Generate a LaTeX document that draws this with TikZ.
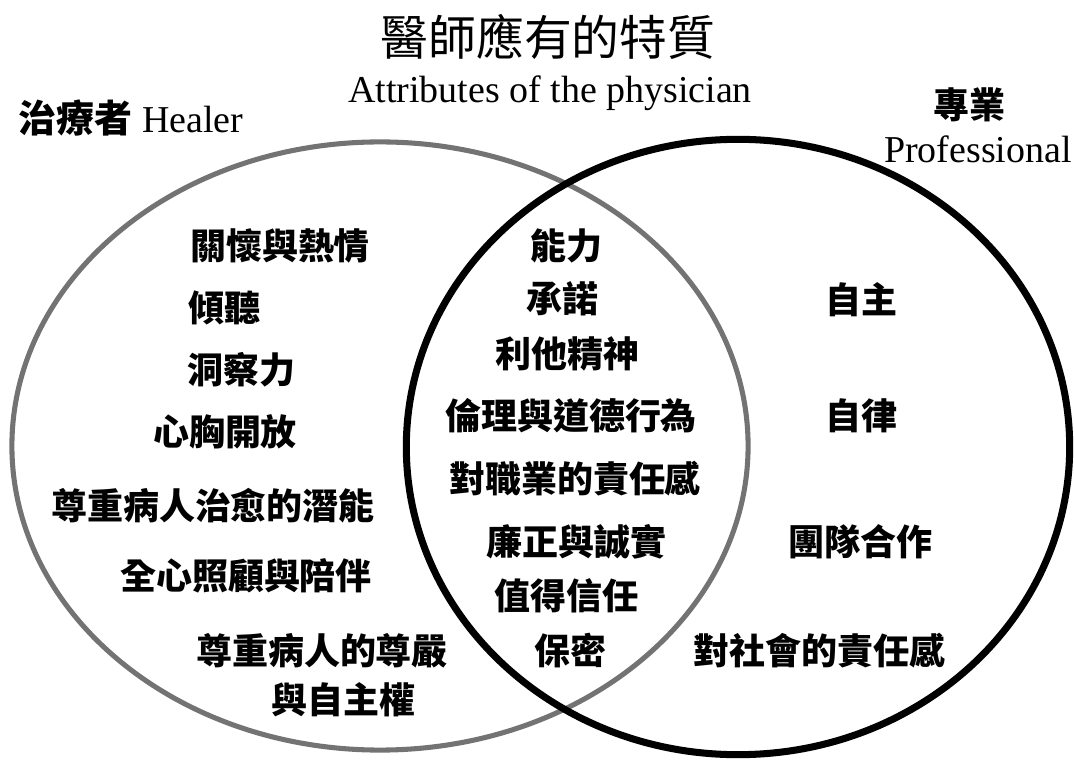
\documentclass[tikz,border=0pt]{standalone}
\usepackage{fontspec}
\setmainfont{Liberation Serif}
\newfontfamily\cjk{Noto Sans CJK TC}

\begin{document}
\begin{tikzpicture}[
        x=0.025cm, y=-0.025cm, % one unit = one pixel of the layout
        item/.style={font=\cjk\bfseries\fontsize{25.6}{30}\selectfont, inner sep=0pt}, % Chinese items
        latin/.style={font=\fontsize{27}{32}\selectfont, inner sep=0pt, anchor=base}, % English labels
        healerring/.style={draw=black!55, line width=3.6pt},
        proring/.style={draw=black, line width=5pt}
        ]

        \useasboundingbox (0,0) rectangle (1074,760);

        % Draw the two circles
        \draw[healerring] (380,446) ellipse [x radius=9.2cm, y radius=7.6cm];
        \draw[proring] (738,447) ellipse [x radius=8.29cm, y radius=7.69cm];

        % Titles
        \node (title) [font=\cjk\fontsize{34}{40}\selectfont, inner sep=0pt] at (548,37) {醫師應有的特質};
        \node (subtitle) [latin] at (550,103) {Attributes of the physician};
        \node (healer) [latin] at (131,133) {{\cjk\bfseries 治療者} Healer};
        \node (zhuanye) [item] at (969,105) {專業};
        \node (professional) [latin] at (978,163) {Professional};

        % Healer side
        \node (care) [item] at (280,246) {關懷與熱情};
        \node (listen) [item] at (224,308) {傾聽};
        \node (insight) [item] at (241,370) {洞察力};
        \node (openmind) [item] at (225,432) {心胸開放};
        \node (potential) [item] at (213,506) {尊重病人治愈的潛能};
        \node (presence) [item] at (246,576) {全心照顧與陪伴};
        \node (dignity) [item, align=center] at (322,675) {尊重病人的尊嚴\\[5pt]\hspace{1.2em}與自主權};

        % Shared attributes
        \node (competence) [item] at (566,246) {能力};
        \node (commitment) [item] at (562,299) {承諾};
        \node (altruism) [item] at (567,354) {利他精神};
        \node (ethics) [item] at (571,416) {倫理與道德行為};
        \node (duty) [item] at (575,479) {對職業的責任感};
        \node (integrity) [item] at (576,542) {廉正與誠實};
        \node (trust) [item] at (566,596) {值得信任};
        \node (secrecy) [item] at (570,651) {保密};

        % Professional side
        \node (autonomy) [item] at (861,300) {自主};
        \node (selfrule) [item] at (861,416) {自律};
        \node (teamwork) [item] at (860,542) {團隊合作};
        \node (society) [item] at (819,651) {對社會的責任感};

    \end{tikzpicture}
\end{document}
